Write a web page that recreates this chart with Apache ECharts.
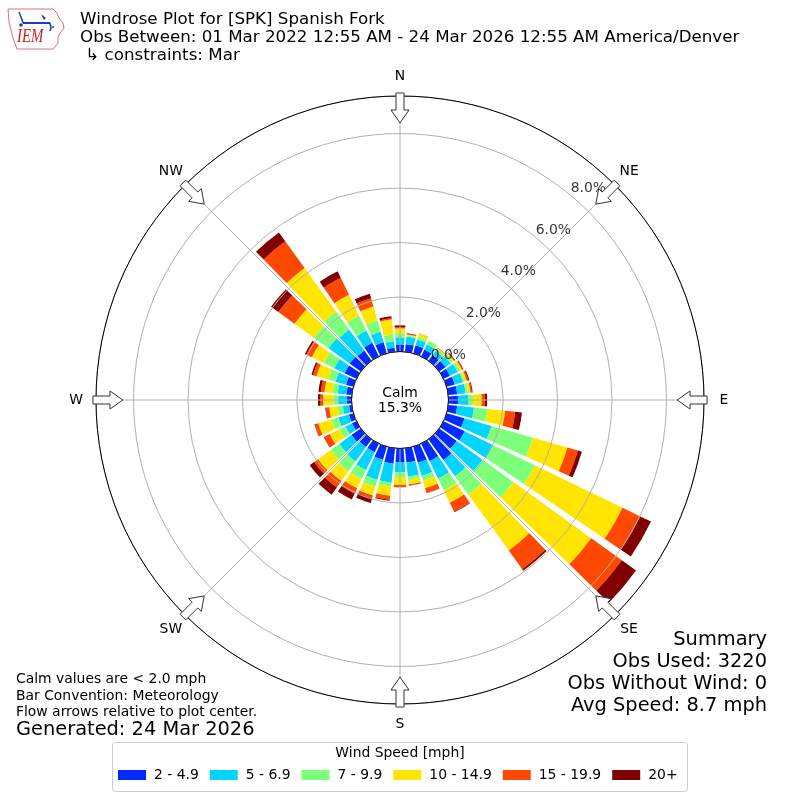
<!DOCTYPE html>
<html>
<head>
<meta charset="utf-8">
<script src="https://cdn.jsdelivr.net/npm/echarts@6/dist/echarts.min.js"></script>
<style>html,body{margin:0;padding:0;background:#fff;}#c{width:800px;height:800px;}</style>
</head>
<body>
<div id="c"></div>
<script>
// ---------- data ----------
const directions = ['0','10','20','30','40','50','60','70','80','90','100','110','120','130','140','150','160','170',
                    '180','190','200','210','220','230','240','250','260','270','280','290','300','310','320','330','340','350'];
const speedBins = ['2 - 4.9','5 - 6.9','7 - 9.9','10 - 14.9','15 - 19.9','20+'];
const binColors = ['#002aff','#00d4ff','#7dff7a','#ffe500','#ff4800','#800000'];
// percent of observations per direction, one array per speed bin
const bin2to5   = [0.24,0.28,0.31,0.28,0.26,0.28,0.26,0.31,0.33,0.35,0.33,0.68,0.86,0.79,0.94,0.72,0.61,0.53,
                   0.50,0.57,0.50,0.35,0.35,0.42,0.18,0.17,0.10,0.17,0.20,0.28,0.48,0.50,0.46,0.55,0.42,0.15];
const bin5to7   = [0.28,0.28,0.22,0.20,0.18,0.22,0.31,0.31,0.31,0.37,0.62,1.03,1.17,1.17,0.73,0.70,0.51,0.51,
                   0.37,0.70,0.77,0.73,0.66,0.55,0.27,0.40,0.23,0.32,0.32,0.40,0.42,0.96,0.95,0.50,0.40,0.24];
const bin7to10  = [0.15,0.04,0.09,0.15,0.09,0.11,0.11,0.06,0.09,0.18,0.50,1.58,1.69,1.40,0.84,0.48,0.18,0.11,
                   0.18,0.15,0.26,0.37,0.44,0.39,0.24,0.26,0.19,0.18,0.19,0.29,0.43,0.66,0.81,0.62,0.44,0.26];
const bin10to15 = [0.18,0.04,0.13,0.02,0.04,0.06,0.07,0.09,0.09,0.32,0.65,1.32,3.58,3.52,2.53,0.51,0.29,0.18,
                   0.29,0.33,0.33,0.37,0.44,0.57,0.40,0.51,0.31,0.37,0.30,0.44,0.49,0.88,1.98,0.84,0.53,0.54];
const bin15to20 = [0.05,0.02,0.01,0.00,0.01,0.03,0.04,0.06,0.05,0.12,0.37,0.40,0.72,1.39,0.84,0.37,0.18,0.04,
                   0.06,0.15,0.11,0.22,0.29,0.18,0.22,0.14,0.13,0.10,0.13,0.13,0.22,0.73,1.21,0.70,0.31,0.05];
const bin20plus = [0.06,0.02,0.00,0.00,0.01,0.02,0.02,0.04,0.03,0.08,0.25,0.15,0.44,0.64,0.07,0.02,0.01,0.01,
                   0.02,0.04,0.18,0.24,0.33,0.20,0.02,0.01,0.02,0.09,0.09,0.06,0.06,0.33,0.40,0.26,0.17,0.07];
const binData = [bin2to5, bin5to7, bin7to10, bin10to15, bin15to20, bin20plus];
const calmPct = 15.3;
const ringTicks = [0, 2, 4, 6, 8];
const radiusMax = 9.38;
const compassLabels = ['N','NE','E','SE','S','SW','W','NW'];
const compassAngles = [0,45,90,135,180,225,270,315];

// ---------- layout ----------
const CX = 400, CY = 400, R0 = 48.5, R1 = 304;
const FONT = 'DejaVu Sans';
const FS = 13.9, FT = 16.7, FB = 19.4;

const chart = echarts.init(document.getElementById('c'), null, {renderer: 'canvas'});

const series = speedBins.map((name, i) => ({
  name: name,
  type: 'bar',
  coordinateSystem: 'polar',
  polarIndex: 0,
  stack: 'ws',
  barCategoryGap: '17%',
  data: binData[i],
  itemStyle: { color: binColors[i] },
  emphasis: { disabled: true },
  z: 2
}));

// radial tick labels, placed by the polar scale
series.push({
  type: 'scatter',
  coordinateSystem: 'polar',
  polarIndex: 0,
  symbol: 'rect',
  symbolSize: 1,
  itemStyle: { color: 'rgba(0,0,0,0)' },
  data: ringTicks.map(v => [v, 4]),
  label: {
    show: true,
    position: [0, 0],
    align: 'left',
    verticalAlign: 'bottom',
    formatter: p => p.value[0].toFixed(1) + '%',
    fontSize: FS,
    fontFamily: FONT,
    color: '#000'
  },
  emphasis: { disabled: true },
  z: 20,
  silent: true
});

// arrows (decoration)
function arrow(a) {
  const t = a * Math.PI / 180;
  const ux = Math.sin(t), uy = -Math.cos(t), px = Math.cos(t), py = Math.sin(t);
  const pts = [[307,-4],[290,-4],[290,-9],[277,0],[290,9],[290,4],[307,4]].map(([r,w]) =>
    [CX + r*ux + w*px, CY + r*uy + w*py]);
  return { type: 'polygon', shape: { points: pts }, style: { fill: '#fff', stroke: '#333', lineWidth: 1 }, z: 50 };
}

function txt(x, y, text, size, align, extra) {
  return Object.assign({
    type: 'text', x: x, y: y, z: 60,
    style: { text: text, font: size + 'px "' + FONT + '"', fill: '#000', align: align || 'left', verticalAlign: 'middle' }
  }, extra || {});
}

const graphics = [];
compassAngles.forEach((a, i) => {
  graphics.push(arrow(a));
  const t = a * Math.PI / 180;
  graphics.push(txt(CX + 324 * Math.sin(t), CY - 324 * Math.cos(t), compassLabels[i], FS, 'center'));
});
graphics.push(txt(CX, 393, 'Calm', FS, 'center'));
graphics.push(txt(CX, 408, calmPct.toFixed(1) + '%', FS, 'center'));
// titles
graphics.push(txt(80, 20, 'Windrose Plot for [SPK] Spanish Fork', FT));
graphics.push(txt(80, 38, 'Obs Between: 01 Mar 2022 12:55 AM - 24 Mar 2026 12:55 AM America/Denver', FT));
graphics.push(txt(80, 56, ' \u21B3 constraints: Mar', FT));
// notes
graphics.push(txt(16, 679, 'Calm values are < 2.0 mph', FS));
graphics.push(txt(16, 696, 'Bar Convention: Meteorology', FS));
graphics.push(txt(16, 712, 'Flow arrows relative to plot center.', FS));
graphics.push(txt(16, 730, 'Generated: 24 Mar 2026', FB));
graphics.push(txt(767, 640, 'Summary', FB, 'right'));
graphics.push(txt(767, 662, 'Obs Used: 3220', FB, 'right'));
graphics.push(txt(767, 684, 'Obs Without Wind: 0', FB, 'right'));
graphics.push(txt(767, 706, 'Avg Speed: 8.7 mph', FB, 'right'));
// legend box + title
graphics.push({ type: 'rect', shape: { x: 112.5, y: 742.5, width: 575, height: 49, r: 3 },
  style: { fill: '#fff', stroke: '#cccccc', lineWidth: 1 }, z: 1 });
graphics.push(txt(400, 753, 'Wind Speed [mph]', FS, 'center'));
// IEM logo
graphics.push({ type: 'polyline', shape: { points: [[8,9],[53,9],[57,13],[59,18],[63,23],[64,28],[60,33],[58,37],[58,43],[55,47],[53,49],[17,49],[13,38],[9,22],[8,9]] },
  style: { stroke: '#e07070', lineWidth: 1, fill: null }, z: 60 });
graphics.push({ type: 'line', shape: { x1: 23, y1: 23, x2: 50, y2: 23 }, style: { stroke: '#1a3acc', lineWidth: 2 }, z: 60 });
graphics.push({ type: 'polyline', shape: { points: [[19,12],[21,17],[23,23]] }, style: { stroke: '#1a3acc', lineWidth: 1.5, fill: null }, z: 60 });
graphics.push({ type: 'polygon', shape: { points: [[41,14],[46,18],[44,20]] }, style: { fill: '#1a3acc' }, z: 60 });
graphics.push({ type: 'polyline', shape: { points: [[50,23],[51,28],[50,31]] }, style: { stroke: '#1a3acc', lineWidth: 1.5, fill: null }, z: 60 });
graphics.push({ type: 'circle', shape: { cx: 21, cy: 25, r: 1.8 }, style: { fill: '#1a3acc' }, z: 60 });
graphics.push({ type: 'circle', shape: { cx: 53, cy: 27, r: 1 }, style: { fill: '#1a3acc' }, z: 60 });
graphics.push({ type: 'text', x: 17, y: 37, z: 60, scaleX: 0.78,
  style: { text: 'IEM', font: 'italic 19px "Liberation Serif"', fill: '#cc1f1f', align: 'left', verticalAlign: 'middle' } });

const option = {
  backgroundColor: '#fff',
  animation: false,
  textStyle: { fontFamily: FONT },
  polar: [
    { center: [CX, CY], radius: [R0, R1] },
    { center: [CX, CY], radius: [R0, R1] }
  ],
  angleAxis: [
    { polarIndex: 0, type: 'category', data: directions, startAngle: 95, clockwise: true,
      axisLine: { show: false }, axisTick: { show: false }, axisLabel: { show: false }, splitLine: { show: false } },
    { polarIndex: 1, type: 'value', min: 0, max: 360, interval: 45, startAngle: 90, clockwise: true, z: 10,
      axisLine: { show: true, lineStyle: { color: '#000', width: 1 } },
      axisTick: { show: false },
      axisLabel: { show: false },
      splitLine: { show: true, lineStyle: { color: '#b0b0b0', width: 1 } } }
  ],
  radiusAxis: [
    { polarIndex: 0, type: 'value', min: 0, max: radiusMax,
      axisLine: { show: false }, axisTick: { show: false }, axisLabel: { show: false }, splitLine: { show: false } },
    { polarIndex: 1, type: 'value', min: 0, max: radiusMax, interval: 2, z: 9,
      axisLine: { show: false }, axisTick: { show: false }, axisLabel: { show: false },
      splitLine: { show: true, lineStyle: { color: '#b0b0b0', width: 1 } } }
  ],
  legend: {
    data: speedBins,
    left: 118, top: 768, padding: 0,
    itemWidth: 28, itemHeight: 10, itemGap: 11, icon: 'rect',
    selectedMode: false,
    textStyle: { fontSize: FS, fontFamily: FONT, color: '#000', padding: [0, 0, 0, 3] }
  },
  graphic: { elements: graphics },
  series: series
};
chart.setOption(option);
</script>
</body>
</html>
